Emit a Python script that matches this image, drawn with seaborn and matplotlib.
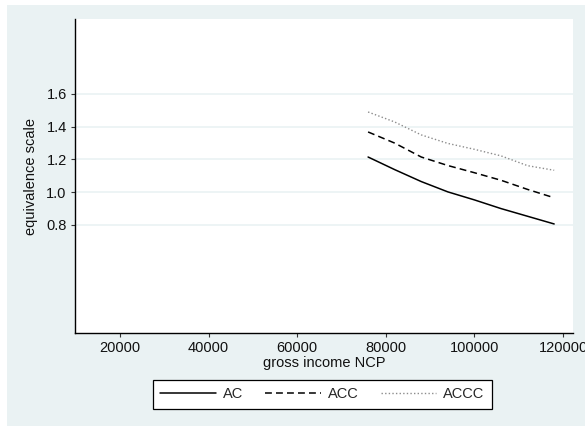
import pandas as pd
import matplotlib.pyplot as plt
import matplotlib.patches as mpatches
import seaborn as sns

# values
income = [76000, 82000, 88000, 94000, 100000, 106000, 112000, 118000]
ac = [1.215, 1.138, 1.065, 1.002, 0.953, 0.900, 0.853, 0.806]
acc = [1.368, 1.300, 1.215, 1.163, 1.119, 1.073, 1.017, 0.966]
accc = [1.490, 1.429, 1.350, 1.298, 1.262, 1.222, 1.162, 1.134]

xticks = [20000, 40000, 60000, 80000, 100000, 120000]
yticks = [0.8, 1.0, 1.2, 1.4, 1.6]

bg = '#eaf2f3'
fs = 10.5

sns.set_style('white')
plt.rcParams['font.family'] = ['Liberation Sans', 'DejaVu Sans']

fig = plt.figure(figsize=(5.85, 4.26), dpi=100)
fig.patch.set_facecolor('white')
# light graph region behind the plot area
fig.patches.append(mpatches.Rectangle((7 / 585, 0), 1, (426 - 5) / 426, transform=fig.transFigure,
                                      facecolor=bg, edgecolor='none', zorder=-10))

ax = fig.add_axes([75 / 585, (426 - 333) / 426, 498 / 585, 314 / 426])
ax.set_facecolor('white')
ax.set_zorder(1)

df = pd.DataFrame({'income': income, 'AC': ac, 'ACC': acc, 'ACCC': accc})

sns.lineplot(data=df, x='income', y='AC', ax=ax, color='black', lw=1.1, label='AC')
sns.lineplot(data=df, x='income', y='ACC', ax=ax, color='black', lw=1.1,
             linestyle=(0, (4.5, 2.7)), label='ACC')
sns.lineplot(data=df, x='income', y='ACCC', ax=ax, color='#8c8c8c', lw=1.0,
             linestyle=(0, (1, 1.6)), label='ACCC')

ax.set_xlim(9850, 122250)
ax.set_ylim(0.14, 2.058)
ax.set_xticks(xticks)
ax.set_xticklabels([str(t) for t in xticks])
ax.set_yticks(yticks)
ax.set_yticklabels([f'{t:.1f}' for t in yticks])

ax.grid(axis='y', color=bg, lw=1.2)
ax.grid(axis='x', visible=False)
ax.set_axisbelow(True)

for s in ['top', 'right']:
    ax.spines[s].set_visible(False)
for s in ['left', 'bottom']:
    ax.spines[s].set_color('black')
    ax.spines[s].set_linewidth(1.0)

ax.tick_params(axis='both', direction='out', length=3, width=0.8, color='#333333',
               labelsize=fs, labelcolor='#111111', pad=3, left=True, bottom=True)

ax.set_xlabel('gross income NCP', fontsize=fs, color='#111111')
ax.set_ylabel('equivalence scale', fontsize=fs, color='#111111')
ax.xaxis.label.set_va('center')
ax.yaxis.label.set_va('center')
ax.xaxis.set_label_coords(0.5, (333 - 363) / 314)
ax.yaxis.set_label_coords((31 - 75) / 498, 0.5)

handles, labels = ax.get_legend_handles_labels()
leg = ax.legend(handles, labels, loc='center', bbox_to_anchor=(322.5 / 585, (426 - 394.5) / 426),
                bbox_transform=fig.transFigure, ncol=3, fontsize=fs, frameon=True, fancybox=False,
                edgecolor='black', facecolor='white', framealpha=1, handlelength=3.8,
                handletextpad=0.5, columnspacing=1.5, borderpad=0.5)
leg.get_frame().set_linewidth(0.9)

fig.savefig('out.png', dpi=100, facecolor=fig.get_facecolor())
